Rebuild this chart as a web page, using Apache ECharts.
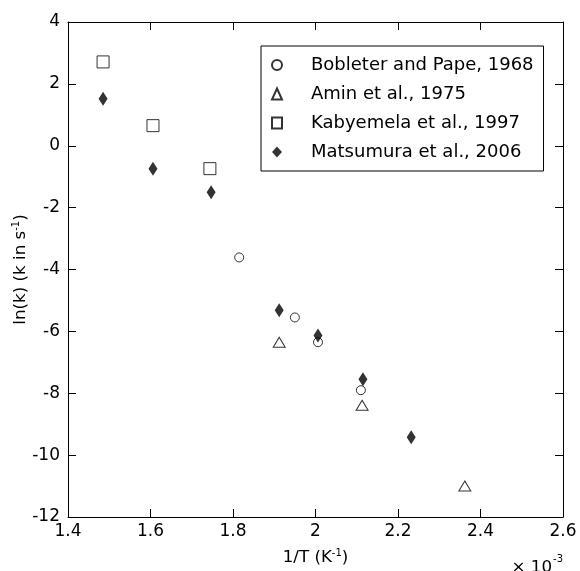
<!DOCTYPE html>
<html>
<head>
<meta charset="utf-8">
<script src="https://cdn.jsdelivr.net/npm/echarts@6/dist/echarts.min.js"></script>
<style>
  html, body { margin: 0; padding: 0; background: #fff; }
  #chart { width: 580px; height: 571px; }
</style>
</head>
<body>
<div id="chart"></div>
<script>
// data, x in 1/T (x 10^-3 K^-1), y = ln(k)
var bobleter = [[1.815, -3.61], [1.95, -5.55], [2.006, -6.35], [2.11, -7.9]];
var amin = [[1.912, -6.35], [2.113, -8.39], [2.362, -11.0]];
var kabyemela = [[1.485, 2.71], [1.606, 0.65], [1.744, -0.74]];
var matsumura = [[1.485, 1.52], [1.606, -0.74], [1.747, -1.5], [1.912, -5.32],
    [2.006, -6.13], [2.115, -7.55], [2.232, -9.42]];
var names = ['Bobleter and Pape, 1968', 'Amin et al., 1975', 'Kabyemela et al., 1997', 'Matsumura et al., 2006'];

var font = 'DejaVu Sans';
var fs = 17;
var chart = echarts.init(document.getElementById('chart'));

var baseAxis = {
    axisLine: { show: true, onZero: false, lineStyle: { color: '#000', width: 1 } },
    axisTick: { show: true, inside: true, length: 8, lineStyle: { color: '#000' } },
    splitLine: { show: false },
    axisLabel: { color: '#000', fontFamily: font, fontSize: fs }
};

var nameRich = {
    a: { fontFamily: font, fontSize: 16.7, color: '#000' },
    s: { fontFamily: font, fontSize: 10, color: '#000', padding: [0, 0, 10, 0] }
};

var hollow = { color: '#fff', borderColor: '#000', borderWidth: 1 };

chart.setOption({
    animation: false,
    textStyle: { fontFamily: font, color: '#000' },
    grid: { left: 68, right: 17, top: 22, bottom: 54, outerBoundsMode: 'none', containLabel: false },
    xAxis: [
        echarts.util.merge({
            type: 'value', min: 1.4, max: 2.6, interval: 0.2,
            name: '{a|1/T (K}{s|-1}{a|)}',
            nameLocation: 'middle', nameGap: 31,
            nameTextStyle: { rich: nameRich },
            axisLabel: { margin: 6 }
        }, baseAxis, false),
        echarts.util.merge({
            type: 'value', position: 'top', min: 1.4, max: 2.6, interval: 0.2,
            axisLabel: { show: false }
        }, baseAxis, false)
    ],
    yAxis: [
        echarts.util.merge({
            type: 'value', min: -12, max: 4, interval: 2,
            name: '{a|ln(k) (k in s}{s|-1}{a|)}',
            nameLocation: 'middle', nameGap: 37, nameRotate: 90,
            nameMoveOverlap: false,
            nameTextStyle: { rich: nameRich },
            axisLabel: { margin: 8 }
        }, baseAxis, false),
        echarts.util.merge({
            type: 'value', position: 'right', min: -12, max: 4, interval: 2,
            axisLabel: { show: false }
        }, baseAxis, false)
    ],
    legend: {
        orient: 'vertical',
        left: 261, top: 46,
        padding: [10, 10, 10, 10],
        itemGap: 11,
        itemWidth: 10, itemHeight: 11,
        borderColor: '#000', borderWidth: 1,
        backgroundColor: '#fff',
        textStyle: { fontFamily: font, fontSize: 18, color: '#000', padding: [0, 0, 0, 24] },
        data: names
    },
    graphic: [{
        type: 'text', right: 28, bottom: -5,
        style: { text: '× 10', fontFamily: font, fontSize: 16.7, fill: '#000' }
    }, {
        type: 'text', right: 17, bottom: 7,
        style: { text: '-3', fontFamily: font, fontSize: 10, fill: '#000' }
    }],
    series: [{
        name: names[0], type: 'scatter', data: bobleter,
        symbol: 'circle', symbolSize: 9, itemStyle: hollow
    }, {
        name: names[1], type: 'scatter', data: amin,
        symbol: 'triangle', symbolSize: [12, 10], itemStyle: hollow
    }, {
        name: names[2], type: 'scatter', data: kabyemela,
        symbol: 'rect', symbolSize: 12, itemStyle: hollow
    }, {
        name: names[3], type: 'scatter', data: matsumura,
        symbol: 'diamond', symbolSize: [9, 14], itemStyle: { color: '#000' }
    }]
});
</script>
</body>
</html>
